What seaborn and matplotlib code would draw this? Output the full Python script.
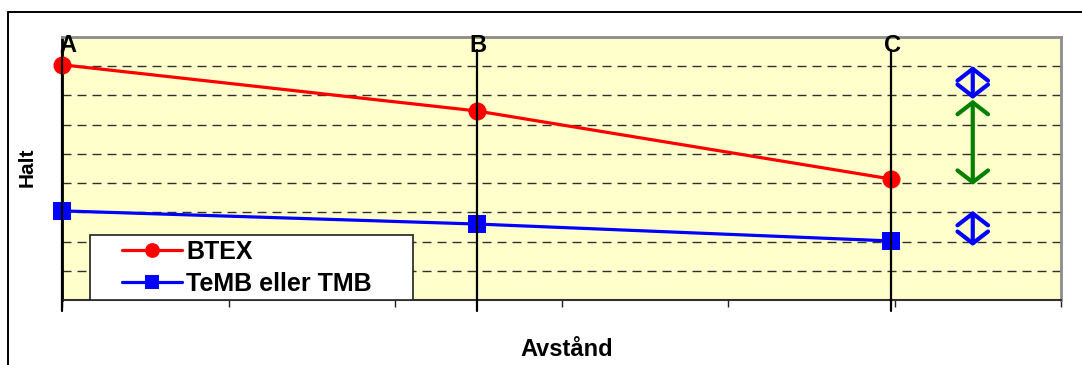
import pandas as pd
import numpy as np
import matplotlib.pyplot as plt
import seaborn as sns
from matplotlib.lines import Line2D
from matplotlib.patches import Rectangle

# data
stations = ['A', 'B', 'C']
station_x = [0.0, 2.49, 4.98]
btex = [8.05, 6.47, 4.14]
temb = [3.05, 2.60, 2.02]
series_names = ['BTEX', 'TeMB eller TMB']
series_colors = ['#FF0000', '#0000FF']

# arrows on the right side
arrow_x = 5.47
arrow_top_blue = (8.0, 6.88)
arrow_green = (6.85, 3.94)
arrow_low_blue = (3.05, 1.85)

df = pd.DataFrame({
    'Avstånd': station_x * 2,
    'Halt': btex + temb,
    'Ämne': [series_names[0]] * 3 + [series_names[1]] * 3,
})

sns.set_style('white')
plt.rcParams['font.family'] = ['Liberation Sans', 'DejaVu Sans']
plt.rcParams['text.color'] = 'black'
plt.rcParams['axes.labelcolor'] = 'black'

fig = plt.figure(figsize=(10.82, 3.65), dpi=100)
ax = fig.add_axes([62 / 1082, 65 / 365, 999 / 1082, 263 / 365])
ax.set_facecolor('#FFFFCC')

sns.lineplot(data=df, x='Avstånd', y='Halt', hue='Ämne', style='Ämne',
             markers=['o', 's'], dashes=False, palette=series_colors,
             linewidth=2.3, markersize=13, markeredgewidth=0, ax=ax, zorder=3)
for ln in ax.lines:
    ln.set_clip_on(False)

ax.set_xlim(0, 6)
ax.set_ylim(0, 9)
ax.set_xticks(range(0, 7))
ax.set_xticklabels([])
ax.set_yticks(range(1, 9))
ax.set_yticklabels([])
ax.tick_params(axis='x', direction='out', length=5, width=1, colors='#202020', bottom=True)
ax.tick_params(axis='y', length=0, left=False)
ax.grid(axis='y', color='#303030', linestyle=(0, (6.5, 4.3)), linewidth=1)
ax.grid(axis='x', visible=False)
ax.set_axisbelow(True)

for side in ['top', 'right']:
    ax.spines[side].set_color('#8C8C8C')
    ax.spines[side].set_linewidth(2)
ax.spines['bottom'].set_color('#303030')
ax.spines['bottom'].set_linewidth(1.5)
ax.spines['left'].set_color('black')
ax.spines['left'].set_linewidth(2)

# station lines and labels
for name, xv in zip(stations, station_x):
    ax.plot([xv, xv], [-0.36, 8.55], color='black', lw=1.6, clip_on=False, zorder=4)
    tx = xv + 0.036 if name == 'A' else xv + 0.01
    ax.text(tx, 8.72, name, ha='center', va='center', fontsize=17,
            fontweight='heavy', color='black', zorder=5, clip_on=False)

# double arrows
for (y0, y1), col in [(arrow_top_blue, '#0000FF'), (arrow_green, '#008000'),
                      (arrow_low_blue, '#0000FF')]:
    ax.annotate('', xy=(arrow_x, y1), xytext=(arrow_x, y0),
                arrowprops=dict(arrowstyle='<->,head_length=0.85,head_width=1.1',
                                color=col, lw=3, mutation_scale=10,
                                shrinkA=0, shrinkB=0), zorder=4)

# legend box drawn by hand, entries from seaborn
ax.add_patch(Rectangle((0.028, 0.0), 0.3233, 0.247, transform=ax.transAxes,
                       facecolor='white', edgecolor='#202020', lw=1.2, zorder=6))
handles, labels = ax.get_legend_handles_labels()
if ax.get_legend():
    ax.get_legend().remove()
leg = ax.legend(handles, labels, loc='center left', bbox_to_anchor=(0.048, 0.121),
                frameon=False, borderpad=0, handlelength=2.4, handletextpad=0.15,
                labelspacing=0.32, markerscale=0.82,
                prop={'size': 18, 'weight': 'bold'})
leg.set_zorder(7)

ax.set_xlabel('Avstånd', fontsize=17, fontweight='bold', va='center')
ax.xaxis.set_label_coords((567 - 62) / 999, -(350 - 300) / 263)
ax.set_ylabel('Halt', fontsize=15, fontweight='bold', va='center', ha='center')
ax.yaxis.set_label_coords((27 - 62) / 999, (300 - 167) / 263)

# outer chart frame (only top and left edges are inside the picture)
fig.add_artist(Line2D([8 / 1082, 1.0], [1 - 12 / 365, 1 - 12 / 365],
                      transform=fig.transFigure, color='black', lw=1.4))
fig.add_artist(Line2D([8 / 1082, 8 / 1082], [0.0, 1 - 12 / 365],
                      transform=fig.transFigure, color='black', lw=1.4))

fig.savefig('out.png', dpi=100)
